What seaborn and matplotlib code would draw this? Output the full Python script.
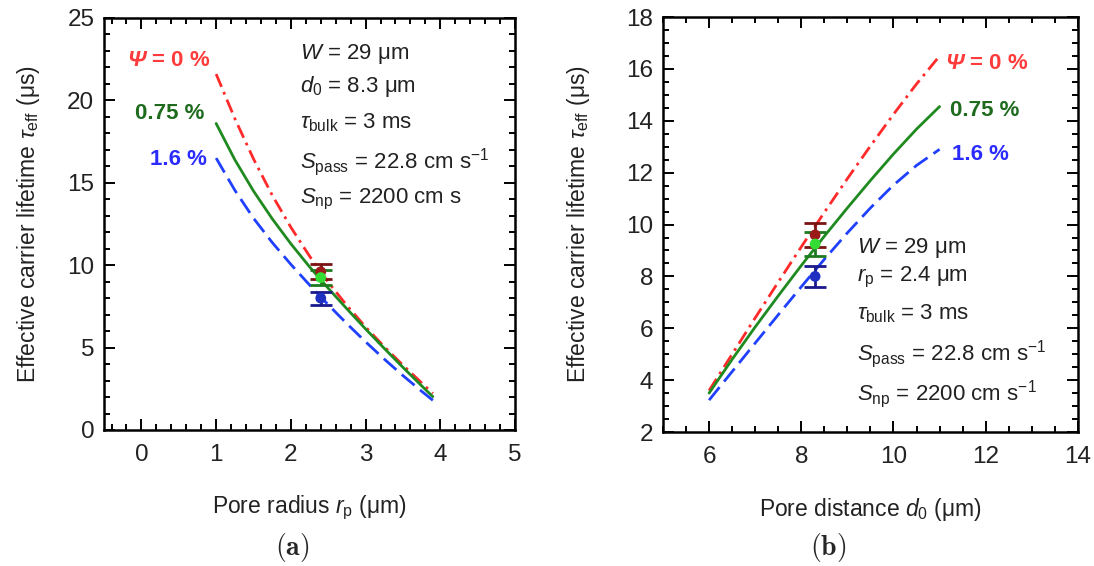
import numpy as np
import pandas as pd
import matplotlib
matplotlib.use("Agg")
import matplotlib.pyplot as plt
from matplotlib.ticker import MultipleLocator
import seaborn as sns

sns.set_theme(style="white")
plt.rcParams["font.family"] = ["Liberation Sans", "DejaVu Sans"]
plt.rcParams["mathtext.fontset"] = "custom"
plt.rcParams["mathtext.rm"] = "Liberation Sans"
plt.rcParams["mathtext.it"] = "Liberation Sans:italic"
plt.rcParams["mathtext.bf"] = "Liberation Sans:bold"
plt.rcParams["mathtext.bfit"] = "Liberation Sans:italic:bold"

# ---- (a) lifetime vs pore radius ----
radius = [1.0, 1.25, 1.5, 1.75, 2.0, 2.25, 2.5, 2.75, 3.0, 3.25, 3.5, 3.75, 3.9]
tau_r_psi0 = [21.6, 18.9, 16.45, 14.25, 12.3, 10.55, 8.97, 7.55, 6.25, 5.05, 3.93, 2.86, 2.22]
tau_r_psi075 = [18.6, 16.4, 14.5, 12.82, 11.3, 9.9, 8.6, 7.35, 6.13, 4.95, 3.8, 2.68, 2.02]
tau_r_psi16 = [16.5, 14.55, 12.85, 11.38, 10.05, 8.8, 7.6, 6.45, 5.35, 4.3, 3.3, 2.35, 1.8]

# ---- (b) lifetime vs pore distance ----
distance = [6.0, 6.5, 7.0, 7.5, 8.0, 8.5, 9.0, 9.5, 10.0, 10.5, 11.0]
tau_d_psi0 = [3.6, 5.0, 6.4, 7.78, 9.14, 10.47, 11.77, 13.03, 14.25, 15.42, 16.5]
tau_d_psi075 = [3.5, 4.8, 6.05, 7.25, 8.42, 9.55, 10.64, 11.7, 12.72, 13.68, 14.55]
tau_d_psi16 = [3.23, 4.33, 5.43, 6.52, 7.6, 8.66, 9.68, 10.64, 11.52, 12.28, 12.9]

# ---- measured samples (r_p = 2.4 µm, d_0 = 8.3 µm) ----
meas_r = 2.4
meas_d = 8.3
meas_tau = [9.6, 9.25, 8.0]
meas_err = [0.45, 0.45, 0.4]

series_labels = [r"$\mathbfit{\Psi}$ = 0 %", "0.75 %", "1.6 %"]
line_colors = ["#FF2A2A", "#1F8A1F", "#2040FF"]
text_colors = ["#FF3B3B", "#1E6B1E", "#2B2BFF"]
point_colors = ["#9B1B1B", "#33DD33", "#2030C0"]
bar_colors = ["#7A1414", "#1E7A1E", "#1A1A8C"]
line_styles = [(0, (5, 2, 1, 2)), "-", (0, (6, 2.6))]

fig = plt.figure(figsize=(10.94, 5.66), dpi=100)
axA = fig.add_axes([0.0951, 0.2403, 0.3757, 0.7279])
axB = fig.add_axes([0.6060, 0.2367, 0.3793, 0.7332])

dfA = pd.DataFrame({"r": radius * 3,
                    "tau": tau_r_psi0 + tau_r_psi075 + tau_r_psi16,
                    "psi": [0] * len(radius) + [1] * len(radius) + [2] * len(radius)})
dfB = pd.DataFrame({"d": distance * 3,
                    "tau": tau_d_psi0 + tau_d_psi075 + tau_d_psi16,
                    "psi": [0] * len(distance) + [1] * len(distance) + [2] * len(distance)})

for i in range(3):
    sub = dfA[dfA.psi == i]
    sns.lineplot(data=sub, x="r", y="tau", ax=axA, color=line_colors[i],
                 linestyle=line_styles[i], linewidth=2.0, legend=False)
    sub = dfB[dfB.psi == i]
    sns.lineplot(data=sub, x="d", y="tau", ax=axB, color=line_colors[i],
                 linestyle=line_styles[i], linewidth=2.0, legend=False)

for ax, xm in ((axA, meas_r), (axB, meas_d)):
    for i in range(3):
        ax.errorbar([xm], [meas_tau[i]], yerr=[meas_err[i]], fmt="none",
                    ecolor=bar_colors[i], elinewidth=2.0, capsize=8, capthick=2.0,
                    zorder=4)
    sns.scatterplot(x=[xm] * 3, y=meas_tau, ax=ax, hue=[0, 1, 2],
                    palette=point_colors, s=60, edgecolor="none", legend=False,
                    zorder=5)

# axes limits and ticks
axA.set_xlim(-0.5, 5)
axA.set_ylim(0, 25)
axA.xaxis.set_major_locator(MultipleLocator(1))
axA.xaxis.set_minor_locator(MultipleLocator(0.2))
axA.yaxis.set_major_locator(MultipleLocator(5))
axA.yaxis.set_minor_locator(MultipleLocator(1))

axB.set_xlim(5, 14)
axB.set_ylim(2, 18)
axB.xaxis.set_major_locator(MultipleLocator(2))
axB.xaxis.set_minor_locator(MultipleLocator(0.5))
axB.yaxis.set_major_locator(MultipleLocator(2))
axB.yaxis.set_minor_locator(MultipleLocator(0.5))

for ax in (axA, axB):
    for sp in ax.spines.values():
        sp.set_color("black")
        sp.set_linewidth(1.8)
    ax.tick_params(which="both", direction="in", top=True, right=True,
                   bottom=True, left=True, color="black", width=1.4)
    ax.tick_params(which="major", length=8)
    ax.tick_params(which="minor", length=4.5)
    ax.tick_params(axis="y", which="major", labelsize=17.5, pad=7, labelcolor="#222222")
    ax.tick_params(axis="x", which="major", labelsize=17.5, pad=10, labelcolor="#222222")
    ax.grid(False)
    ax.set_facecolor("white")

ylab = r"Effective carrier lifetime $\tau_{\mathrm{eff}}$ (μs)"
axA.set_ylabel(ylab, fontsize=16.5, color="#222222")
axB.set_ylabel(ylab, fontsize=16.5, color="#222222")
axA.set_xlabel(r"Pore radius $r_{\mathrm{p}}$ (μm)", fontsize=16.5, color="#222222")
axB.set_xlabel(r"Pore distance $d_{0}$ (μm)", fontsize=16.5, color="#222222")
axA.yaxis.set_label_coords(-0.15, 0.5)
axB.yaxis.set_label_coords(-0.17, 0.5)
axA.xaxis.set_label_coords(0.5, -0.155)
axB.xaxis.set_label_coords(0.5, -0.155)

# series labels
posA = [(0.93, 22.45), (0.84, 19.2), (0.87, 16.4)]
posB = [(11.12, 16.2), (11.23, 14.4), (11.26, 12.7)]
for i in range(3):
    axA.text(*posA[i], series_labels[i], color=text_colors[i], fontsize=16,
             fontweight="bold", ha="right", va="center")
    axB.text(*posB[i], series_labels[i], color=text_colors[i], fontsize=16,
             fontweight="bold", ha="left", va="center")

# simulation parameters
paramsA = [r"$W$ = 29 μm", r"$d_0$ = 8.3 μm", r"$\tau_{\mathrm{bulk}}$ = 3 ms",
           r"$S_{\mathrm{pass}}$ = 22.8 cm s$^{-1}$", r"$S_{\mathrm{np}}$ = 2200 cm s"]
paramsB = [r"$W$ = 29 μm", r"$r_{\mathrm{p}}$ = 2.4 μm", r"$\tau_{\mathrm{bulk}}$ = 3 ms",
           r"$S_{\mathrm{pass}}$ = 22.8 cm s$^{-1}$", r"$S_{\mathrm{np}}$ = 2200 cm s$^{-1}$"]
yA = [22.8, 20.85, 18.65, 16.25, 14.0]
yB = [9.1, 7.95, 6.55, 5.0, 3.45]
for t, y in zip(paramsA, yA):
    axA.text(2.12, y, t, fontsize=16, color="#222222", ha="left", va="center")
for t, y in zip(paramsB, yB):
    axB.text(9.2, y, t, fontsize=16, color="#222222", ha="left", va="center")

fig.text(292 / 1094, 1 - 548 / 566, r"$\mathbf{(a)}$", fontsize=20,
         ha="center", va="center", math_fontfamily="cm")
fig.text(828 / 1094, 1 - 548 / 566, r"$\mathbf{(b)}$", fontsize=20,
         ha="center", va="center", math_fontfamily="cm")

fig.savefig("out.png", dpi=100, facecolor="white")
